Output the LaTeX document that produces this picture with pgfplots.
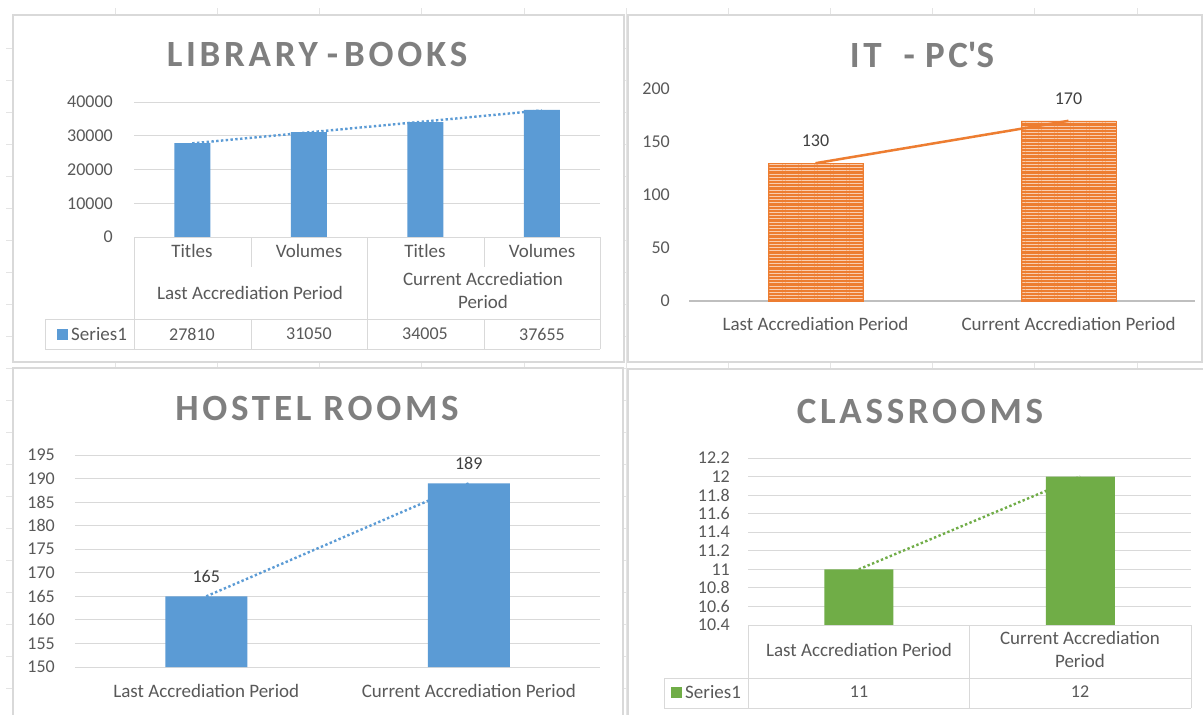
\documentclass[border=0pt]{standalone}
\usepackage{fontspec}
\setmainfont{Carlito}
\newfontfamily\titlefont[LetterSpace=10]{Carlito}
\usepackage{pgfplots}
\pgfplotsset{compat=1.18}
\usepackage{pgfplotstable}
\usetikzlibrary{patterns.meta}
\definecolor{xblue}{HTML}{5B9BD5}
\definecolor{xorange}{HTML}{ED7D31}
\definecolor{xorangelt}{HTML}{F9CDB0}
\definecolor{xgreen}{HTML}{70AD47}
\definecolor{txt}{HTML}{595959}
\definecolor{lbl}{HTML}{404040}
\definecolor{ttl}{HTML}{7F7F7F}
\definecolor{grd}{HTML}{D9D9D9}
\definecolor{sheet}{HTML}{E4E4E4}
\definecolor{axl}{HTML}{BFBFBF}
\newcommand{\numfont}{\fontsize{18}{23}\selectfont}
\newcommand{\lblfont}{\fontsize{19}{23}\selectfont}
\newcommand{\ttlfont}{\titlefont\bfseries\fontsize{37}{40}\selectfont}

\pgfplotstableread{
X Y
0 27810
1 31050
2 34005
3 37655
}\librarydata
\pgfplotstableread{
X Y
0 130
1 170
}\itdata
\pgfplotstableread{
X Y
0 165
1 189
}\hosteldata
\pgfplotstableread{
X Y
0 11
1 12
}\classdata

\pgfplotsset{
  panel/.style={
    scale only axis, anchor=south west,
    axis line style={draw=none},
    major tick length=0pt,
    tick style={draw=none},
    grid style={grd, line width=1pt},
    ymajorgrids,
    yticklabel style={font=\numfont, text=txt},
    xticklabel style={font=\lblfont, text=txt},
    /pgf/number format/assume math mode=true,
    /pgf/number format/1000 sep={},
    scaled y ticks=false,
    yticklabel style={anchor=east, inner sep=0pt},
    xticklabel style={anchor=center, inner sep=0pt, align=center},
  },
  vals/.style={draw=none, nodes near coords,
    every node near coord/.append style={font=\numfont, text=lbl, anchor=center, yshift=#1}},
  trend/.style={line width=2.4pt, dash pattern=on 2.4pt off 2.4pt},
}

\begin{document}
\begin{tikzpicture}[x=1pt,y=1pt]
\useasboundingbox (0pt,0pt) rectangle (1203pt,-715pt);
\fill[white] (0,0) rectangle (1203,-715);
% spreadsheet grid
\foreach \c in {115,217,319,421,524,626,728,830,932,1034,1137}{\draw[sheet, line width=1pt] (\c,-8) -- (\c,-715);}
\foreach \r in {48,80,...,688}{\draw[sheet, line width=1pt] (6,-\r) -- (1203,-\r);}
% chart panels
\filldraw[fill=white, draw=grd, line width=1.2pt] (13,-15) rectangle (624,-362);
\filldraw[fill=white, draw=grd, line width=1.2pt] (628,-15) rectangle (1202,-362);
\fill[white] (13,-368) rectangle (623,-715);
\draw[grd, line width=1.2pt] (13,-715) -- (13,-368) -- (623,-368) -- (623,-715);
\fill[white] (628,-369) rectangle (1203,-715);
\draw[grd, line width=1.2pt] (628,-715) -- (628,-369) -- (1203,-369);

% titles
\node[text=ttl, font=\ttlfont] at (317,-54) {LIBRARY\hspace{9pt}-\hspace{6pt}BOOKS};
\node[text=ttl, font=\ttlfont] at (922,-55) {IT\hspace{22pt}-\hspace{10pt}PC\textquotesingle S};
\node[text=ttl, font=\ttlfont] at (317,-408.5) {HOSTEL ROOMS};
\node[text=ttl, font=\ttlfont] at (920,-411) {CLASSROOMS};

% ---------------- LIBRARY - BOOKS
\begin{axis}[panel, at={(134pt,-237pt)}, width=466pt, height=135pt,
  xmin=-0.5, xmax=3.5, ymin=0, ymax=40000,
  ytick={0,10000,20000,30000,40000}, xtick=\empty,
  yticklabel style={xshift=-21pt}]
\addplot[ybar, bar shift=0pt, bar width=36pt, fill=xblue, draw=none] table[x=X, y=Y] {\librarydata};
\addplot[xblue, trend] table[x=X, y={create col/linear regression={y=Y}}] {\librarydata};
\end{axis}
\begin{scope}[grd, line width=1pt]
\draw (134,-237) -- (600,-237);
\draw (134,-237) -- (134,-349);
\draw (367,-237) -- (367,-349);
\draw (600,-237) -- (600,-349);
\draw (251,-237) -- (251,-267);
\draw (484,-237) -- (484,-267);
\draw (45,-319) -- (600,-319);
\draw (45,-349) -- (600,-349);
\draw (45,-319) -- (45,-349);
\draw (251,-319) -- (251,-349);
\draw (484,-319) -- (484,-349);
\end{scope}
\begin{scope}[font=\lblfont, text=txt]
\node at (192,-251) {Titles};
\node at (309,-251) {Volumes};
\node at (425,-251) {Titles};
\node at (542,-251) {Volumes};
\node at (250,-293) {Last Accrediation Period};
\node[align=center] at (483,-290.5) {Current Accrediation\\Period};
\fill[xblue] (57,-329) rectangle (68,-340);
\node[anchor=west, inner sep=0pt] at (71,-334) {Series1};
\end{scope}
\begin{scope}[font=\numfont, text=txt]
\node at (192,-334) {27810};
\node at (309,-334) {31050};
\node at (425,-334) {34005};
\node at (542,-334) {37655};
\end{scope}

% ---------------- IT - PC'S
\begin{axis}[panel, at={(689pt,-301pt)}, width=506pt, height=212pt,
  xmin=-0.5, xmax=1.5, ymin=0, ymax=200, ymajorgrids=false,
  ytick={0,50,100,150,200},
  xtick={0,1}, xticklabels={Last Accrediation Period, Current Accrediation Period},
  xticklabel style={yshift=-23pt},
  yticklabel style={xshift=-19pt}]
\draw[axl, line width=2pt] (rel axis cs:0,0) -- (rel axis cs:1,0);
\addplot[ybar, bar shift=0pt, bar width=95pt, fill=xorange, draw=xorange,
  postaction={pattern={Lines[angle=0, distance=3.2pt, line width=1pt]}, pattern color=xorangelt}]
  table[x=X, y=Y] {\itdata};
\addplot[xorange, line width=2.5pt] table[x=X, y={create col/linear regression={y=Y}}] {\itdata};
\addplot[vals=22pt] table[x=X, y=Y] {\itdata};
\end{axis}

% ---------------- HOSTEL ROOMS
\begin{axis}[panel, at={(75pt,-667pt)}, width=525pt, height=212pt,
  xmin=-0.5, xmax=1.5, ymin=150, ymax=195,
  ytick={150,155,160,165,170,175,180,185,190,195},
  xtick={0,1}, xticklabels={Last Accrediation Period, Current Accrediation Period},
  xticklabel style={yshift=-24pt},
  yticklabel style={xshift=-20pt}]
\addplot[xblue, trend] table[x=X, y={create col/linear regression={y=Y}}] {\hosteldata};
\addplot[ybar, bar shift=0pt, bar width=82pt, fill=xblue, draw=none] table[x=X, y=Y] {\hosteldata};
\addplot[vals=20pt] table[x=X, y=Y] {\hosteldata};
\end{axis}

% ---------------- CLASSROOMS
\begin{axis}[panel, at={(748pt,-625pt)}, width=443pt, height=167pt,
  xmin=-0.5, xmax=1.5, ymin=10.4, ymax=12.2,
  ytick={10.4,10.6,10.8,11,11.2,11.4,11.6,11.8,12,12.2}, xtick=\empty,
  yticklabel style={xshift=-18pt}]
\addplot[xgreen, trend] table[x=X, y={create col/linear regression={y=Y}}] {\classdata};
\addplot[ybar, bar shift=0pt, bar width=69pt, fill=xgreen, draw=none] table[x=X, y=Y] {\classdata};
\end{axis}
\begin{scope}[grd, line width=1pt]
\draw (748,-625) -- (1191,-625);
\draw (748,-625) -- (748,-708);
\draw (969,-625) -- (969,-708);
\draw (1191,-625) -- (1191,-708);
\draw (664,-678) -- (1191,-678);
\draw (664,-708) -- (1191,-708);
\draw (664,-678) -- (664,-708);
\end{scope}
\begin{scope}[font=\lblfont, text=txt]
\node at (859,-650) {Last Accrediation Period};
\node[align=center] at (1080,-649) {Current Accrediation\\Period};
\fill[xgreen] (671,-687) rectangle (682,-698);
\node[anchor=west, inner sep=0pt] at (685,-692) {Series1};
\end{scope}
\begin{scope}[font=\numfont, text=txt]
\node at (859,-692) {11};
\node at (1080,-692) {12};
\end{scope}
\end{tikzpicture}
\end{document}
